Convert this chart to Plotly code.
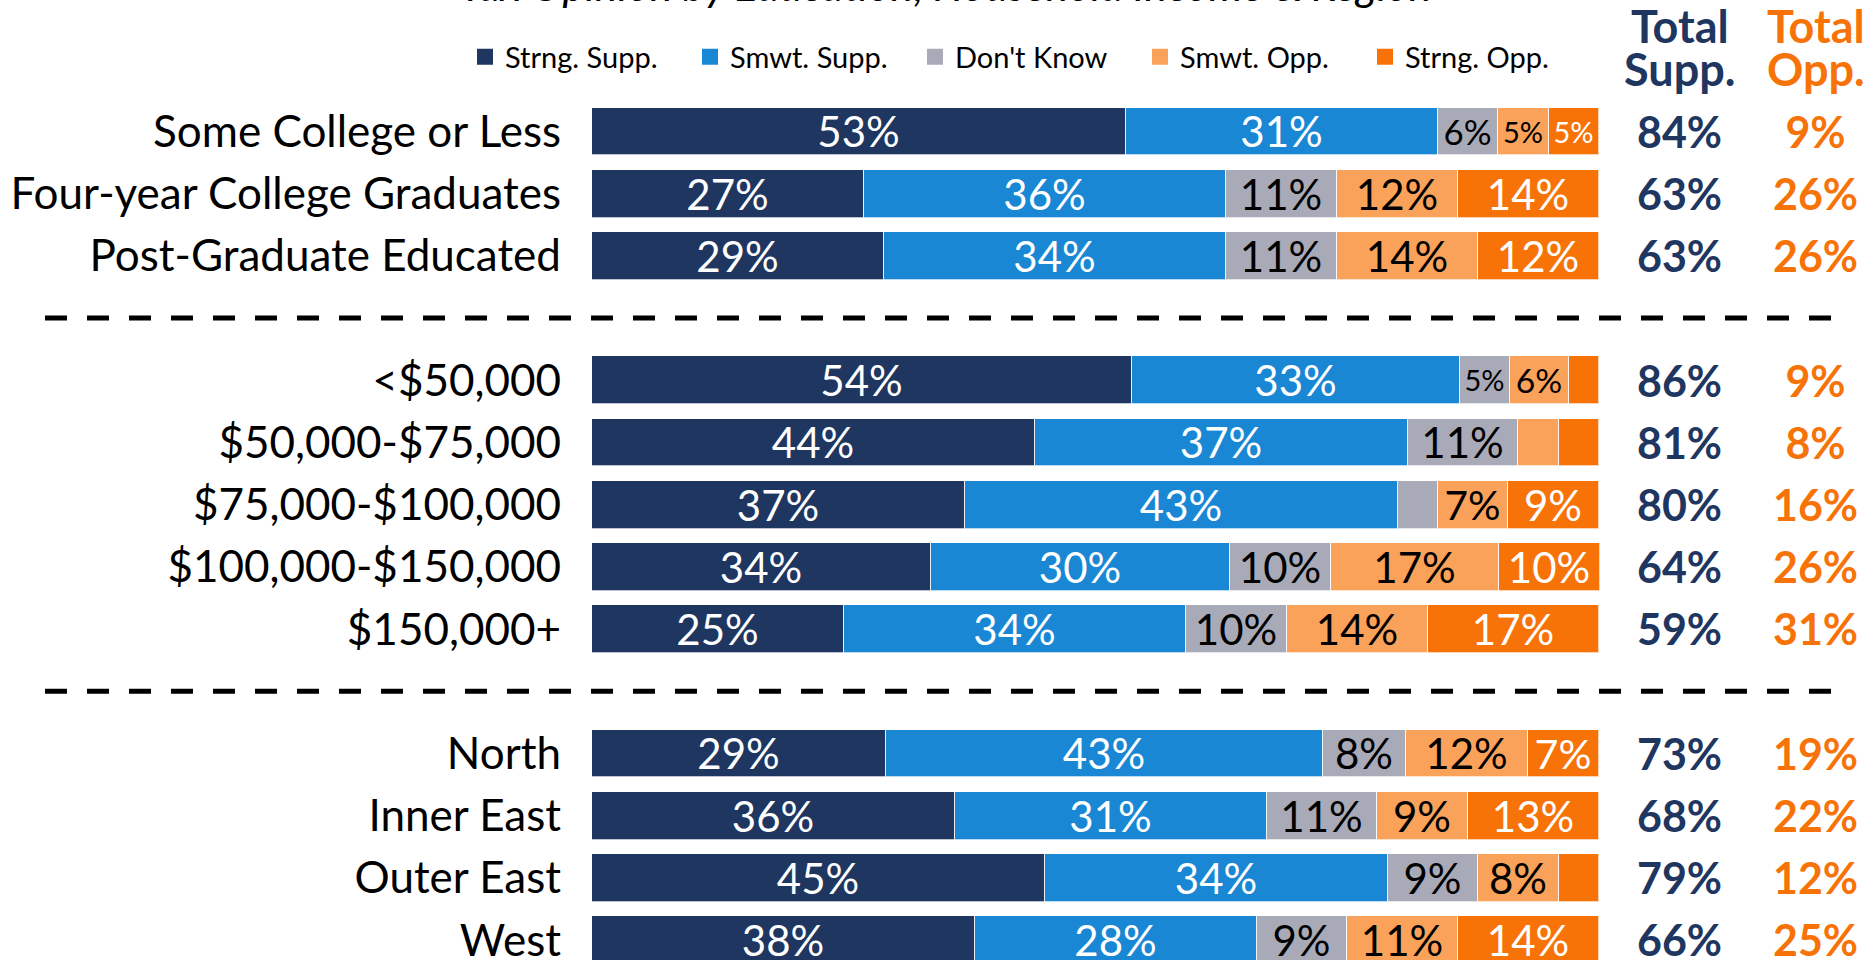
import plotly.graph_objects as go

# ---------------- data ----------------
education = ["Some College or Less", "Four-year College Graduates", "Post-Graduate Educated"]
income = ["<$50,000", "$50,000-$75,000", "$75,000-$100,000", "$100,000-$150,000", "$150,000+"]
region = ["North", "Inner East", "Outer East", "West"]

series_names = ["Strng. Supp.", "Smwt. Supp.", "Don't Know", "Smwt. Opp.", "Strng. Opp."]

strng_supp = [53, 27, 29, 53.6, 44, 37, 33.7, 25, 29.2, 36, 45, 38]
smwt_supp = [31, 36, 34, 32.6, 37, 43, 29.7, 34, 43.4, 31, 34, 28]
dont_know = [6, 11, 11, 5, 11, 4, 10, 10, 8.2, 11, 9, 9]
smwt_opp = [5, 12, 14, 5.8, 4, 7, 16.7, 14, 12.1, 9, 8, 11]
strng_opp = [5, 14, 12, 3, 4, 9, 10, 17, 7.1, 13, 4, 14]

total_supp = [84, 63, 63, 86, 81, 80, 64, 59, 73, 68, 79, 66]
total_opp = [9, 26, 26, 9, 8, 16, 26, 31, 19, 22, 12, 25]

title_text = "Tax Opinion by Education, Household Income & Region"

# ---------------- styles ----------------
NAVY = "#1E3660"
BLUE = "#1A87D5"
GRAY = "#A9AAB8"
LORANGE = "#FBA25A"
ORANGE = "#F77308"
colors = [NAVY, BLUE, GRAY, LORANGE, ORANGE]
text_colors = ["white", "white", "black", "black", "white"]
FONT = "Lato"

W, H = 1875, 960
ML, MT = 592, 100
PW, PH = W - ML, H - MT
TOTAL_DY = 0.09  # small downward nudge so bold totals sit on the bar centre line


def paper_y(px):
    """pixel row (from top of page) -> paper y"""
    return 1 + (MT - px) / PH


# row positions: groups separated by one empty slot holding a dashed line
groups = [education, income, region]
categories, positions, separators = [], [], []
pos = 0
for gi, g in enumerate(groups):
    if gi > 0:
        separators.append(pos)
        pos += 1
    for c in g:
        categories.append(c)
        positions.append(pos)
        pos += 1

fig = go.Figure()
for name, vals, col, tcol in zip(series_names,
                                 [strng_supp, smwt_supp, dont_know, smwt_opp, strng_opp],
                                 colors, text_colors):
    labels = [f"{v:.0f}%" if v >= 4.5 else "" for v in vals]
    sizes = [min(42, 5.8 * v) for v in vals]
    fig.add_trace(go.Bar(
        x=vals, y=positions, orientation="h", name=name,
        legendgroup=name, showlegend=False,
        marker=dict(color=col, line=dict(width=1, color="rgba(255,255,255,0.7)")),
        width=0.77,
        text=labels, textposition="inside", insidetextanchor="middle",
        constraintext="none",
        textfont=dict(family=FONT, size=sizes, color=tcol),
        hoverinfo="skip",
    ))
# legend entries with larger square swatches
for name, col in zip(series_names, colors):
    fig.add_trace(go.Scatter(
        x=[None], y=[None], mode="markers", name=name, legendgroup=name,
        marker=dict(symbol="square", size=16, color=col), hoverinfo="skip"))

SUPP_X = 108
OPP_X = 121.5
fig.add_trace(go.Scatter(
    x=[SUPP_X] * len(positions), y=[p + TOTAL_DY for p in positions], mode="text",
    text=[f"{v}%" for v in total_supp], textposition="middle center",
    textfont=dict(family=FONT, size=43, color=NAVY, weight="bold"),
    showlegend=False, hoverinfo="skip"))
fig.add_trace(go.Scatter(
    x=[OPP_X] * len(positions), y=[p + TOTAL_DY for p in positions], mode="text",
    text=[f"{v}%" for v in total_opp], textposition="middle center",
    textfont=dict(family=FONT, size=43, color=ORANGE, weight="bold"),
    showlegend=False, hoverinfo="skip"))

annotations = []
for xval, col, words in [(SUPP_X, NAVY, ["Total", "Supp."]), (OPP_X, ORANGE, ["Total", "Opp."])]:
    for py, w in zip([26, 69], words):
        annotations.append(dict(x=xval, y=paper_y(py), xref="x", yref="paper",
                                yanchor="middle", text=f"<b>{w}</b>",
                                showarrow=False, font=dict(family=FONT, size=45, color=col)))
annotations.append(dict(x=(946 - ML) / PW, y=paper_y(0), xref="paper", yref="paper",
                        xanchor="center", yanchor="bottom", yshift=-12,
                        text=f"<i>{title_text}</i>", showarrow=False,
                        font=dict(family=FONT, size=43, color="black")))

shapes = []
for s in separators:
    shapes.append(dict(type="line", xref="paper", yref="y",
                       x0=(45 - ML) / PW, x1=(1836 - ML) / PW, y0=s, y1=s,
                       line=dict(color="black", width=5, dash="22px,20px")))

fig.update_layout(
    width=W, height=H,
    margin=dict(l=ML, r=0, t=MT, b=0, autoexpand=False),
    paper_bgcolor="white", plot_bgcolor="white",
    barmode="stack",
    bargap=0,
    font=dict(family=FONT, color="black"),
    showlegend=True,
    legend=dict(orientation="h", x=(465 - ML) / PW, y=paper_y(57), xanchor="left", yanchor="middle",
                traceorder="normal", font=dict(family=FONT, size=29, color="black"),
                entrywidth=180, entrywidthmode="pixels", bgcolor="rgba(0,0,0,0)",
                itemsizing="trace"),
    xaxis=dict(range=[0, PW / 10.07], visible=False, fixedrange=True, automargin=False),
    yaxis=dict(range=[(H - 131.5) / 62.2, (MT - 131.5) / 62.2], tickvals=positions, ticktext=categories,
               showgrid=False, zeroline=False, showline=False, ticks="",
               ticklabelstandoff=30, ticklabeloverflow="allow", automargin=False,
               tickfont=dict(family=FONT, size=44, color="black"), fixedrange=True),
    annotations=annotations,
    shapes=shapes,
)

fig.write_html("out.html",
               config={"displayModeBar": False},
               post_script="document.body.style.margin='0';document.body.style.overflow='hidden';")
